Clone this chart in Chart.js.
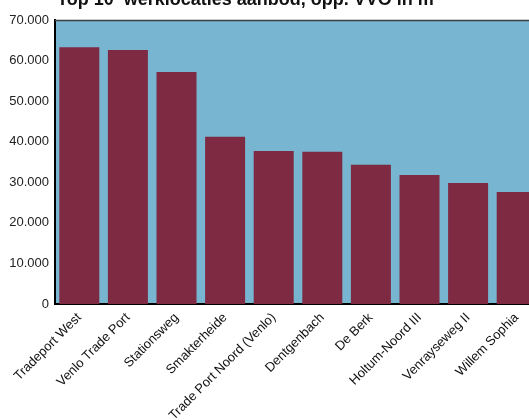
<!DOCTYPE html>
<html>
<head>
<meta charset="utf-8">
<script src="https://cdn.jsdelivr.net/npm/chart.js@4"></script>
<style>
    html, body { margin: 0; padding: 0; background: #ffffff; overflow: hidden; }
    #wrap { position: absolute; left: 0; top: 0; width: 541px; height: 420px; }
</style>
</head>
<body>
<div id="wrap"><canvas id="werklocaties-chart"></canvas></div>
<script>
// Top 10 werklocaties, aanbod in m² VVO
const locaties = [
    'Tradeport West', 'Venlo Trade Port', 'Stationsweg', 'Smakterheide',
    'Trade Port Noord (Venlo)', 'Dentgenbach', 'De Berk', 'Holtum-Noord III',
    'Venrayseweg II', 'Willem Sophia'
];
const aanbod = [63300, 62600, 57200, 41200, 37700, 37500, 34300, 31800, 29800, 27600];
const yMax = 70000;
const yStap = 10000;
const titel = 'Top 10  werklocaties aanbod, opp. VVO in m²';

// 70000 -> "70.000"
function formatNL(value) {
    return String(Math.round(value)).replace(/\B(?=(\d{3})+(?!\d))/g, '.');
}

// Plot background, top border and the (partly cut off) title
const plotFrame = {
    id: 'plotFrame',
    beforeDraw(chart) {
        const { ctx, chartArea } = chart;
        ctx.save();
        ctx.fillStyle = '#77b5d0';
        ctx.fillRect(chartArea.left, chartArea.top, chartArea.right - chartArea.left, chartArea.bottom - chartArea.top);
        ctx.restore();
    },
    afterDraw(chart) {
        const { ctx, chartArea } = chart;
        ctx.save();
        ctx.strokeStyle = '#3a3f44';
        ctx.lineWidth = 1.5;
        ctx.beginPath();
        ctx.moveTo(chartArea.left, chartArea.top + 0.5);
        ctx.lineTo(chartArea.right, chartArea.top + 0.5);
        ctx.stroke();

        ctx.fillStyle = '#111111';
        ctx.font = 'bold 18px "Liberation Sans", Arial, sans-serif';
        ctx.textAlign = 'left';
        ctx.textBaseline = 'alphabetic';
        ctx.fillText(titel, 57, 4.5);
        ctx.restore();
    }
};

const ctx = document.getElementById('werklocaties-chart').getContext('2d');
new Chart(ctx, {
    type: 'bar',
    data: {
        labels: locaties,
        datasets: [{
            label: 'Aanbod (m² VVO)',
            data: aanbod,
            backgroundColor: '#7e2a42',
            borderWidth: 0,
            categoryPercentage: 1,
            barPercentage: 0.823
        }]
    },
    options: {
        responsive: true,
        maintainAspectRatio: false,
        animation: false,
        layout: { padding: { top: 20, right: 0, left: 0, bottom: 0 } },
        plugins: {
            legend: { display: false },
            title: { display: false },
            tooltip: { enabled: false }
        },
        scales: {
            x: {
                grid: { display: false, drawTicks: false },
                border: { display: true, color: '#000000', width: 2 },
                ticks: {
                    color: '#111111',
                    font: { family: '"Liberation Sans", Arial, sans-serif', size: 13 },
                    minRotation: 45,
                    maxRotation: 45,
                    autoSkip: false,
                    padding: 6
                },
                afterFit(scale) { scale.height = 116; }
            },
            y: {
                min: 0,
                max: yMax,
                grid: { display: false, drawTicks: false },
                border: { display: true, color: '#000000', width: 2 },
                ticks: {
                    stepSize: yStap,
                    color: '#222222',
                    padding: 6,
                    font: { family: '"Liberation Sans", Arial, sans-serif', size: 13 },
                    callback: value => formatNL(value)
                },
                afterFit(scale) { scale.width = 55; }
            }
        }
    },
    plugins: [plotFrame]
});
</script>
</body>
</html>
